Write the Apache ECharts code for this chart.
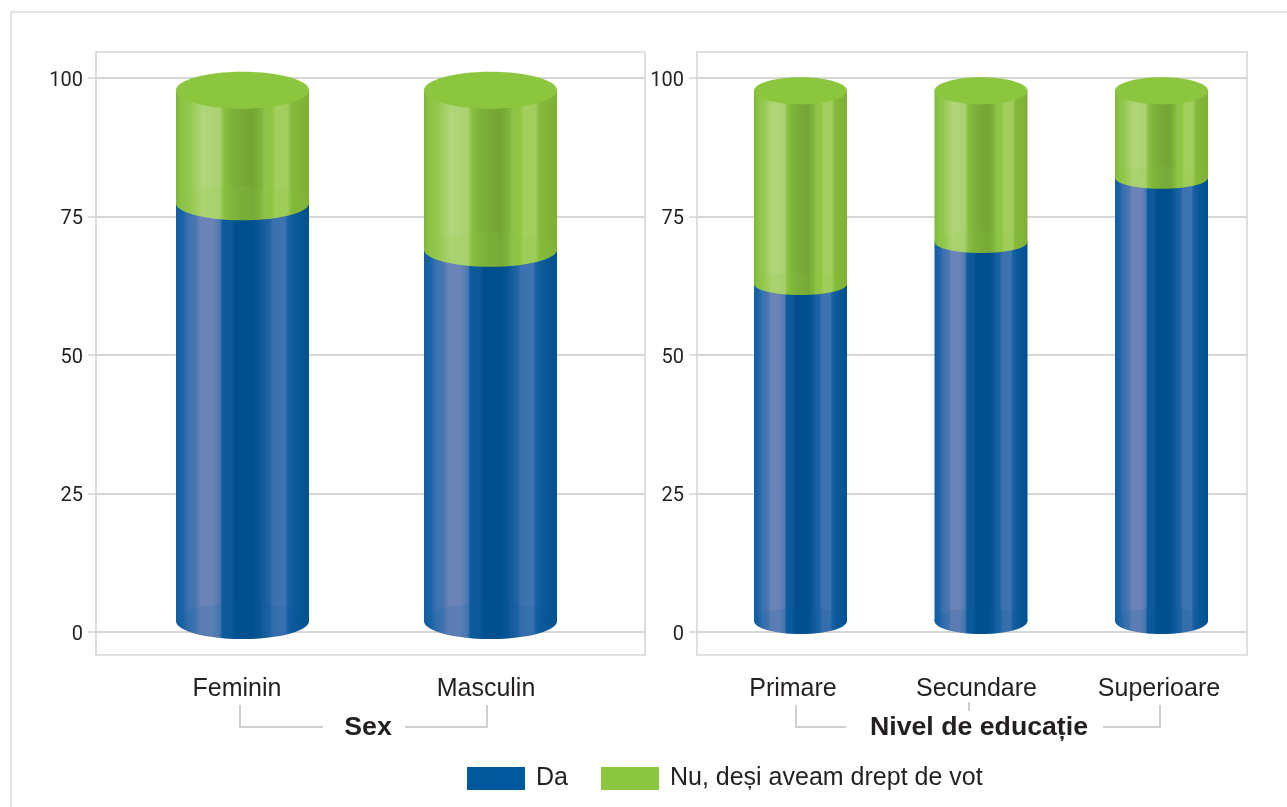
<!DOCTYPE html>
<html>
<head>
<meta charset="utf-8">
<style>html,body{margin:0;padding:0;background:#fff}#c{width:1287px;height:807px}</style>
<script src="https://cdn.jsdelivr.net/npm/echarts@6/dist/echarts.min.js"></script>
</head>
<body>
<div id="c"></div>
<script>
const sexCategories = ['Feminin', 'Masculin'];
const eduCategories = ['Primare', 'Secundare', 'Superioare'];
const sexDa = [75.4, 67.0];
const sexNu = [20.4, 28.8];
const eduDa = [60.8, 68.4, 80.0];
const eduNu = [34.9, 27.3, 15.7];
const yTickLabels = [0, 25, 50, 75, 100];
const seriesNames = ['Da', 'Nu, deși aveam drept de vot'];

const BASE_LIFT = 2;
const BLUE = '#00599d', GREEN = '#8cc63f';
const LINE = '#d6d6d6', INK = '#231f20';
const SANS = '"Liberation Sans", Arial, sans-serif';
const NARROW = 'Roboto, sans-serif';

const blueStops = [[0,'#0f5ea3'],[0.05,'#1d64a8'],[0.09,'#3a70ae'],[0.15,'#4a76b0'],[0.18,'#6a82b6'],[0.27,'#6d84b8'],[0.33,'#4d79b2'],[0.35,'#0e5a9e'],[0.42,'#0d5897'],[0.45,'#004d8c'],[0.58,'#004f8e'],[0.63,'#0a5596'],[0.67,'#1a5f9f'],[0.7,'#1b63a5'],[0.73,'#3c70ae'],[0.82,'#3f74b2'],[0.84,'#1b62a5'],[0.88,'#0e5a9c'],[1,'#00508f']];
const greenStops = [[0,'#7fb53a'],[0.04,'#8cc343'],[0.1,'#93c84f'],[0.15,'#a3cf62'],[0.2,'#b0d57a'],[0.33,'#a9d271'],[0.36,'#88c040'],[0.42,'#7eb33a'],[0.5,'#78a938'],[0.58,'#74a635'],[0.64,'#80b53b'],[0.67,'#8fc34b'],[0.72,'#8fc642'],[0.75,'#a2cf5e'],[0.84,'#a0cd5c'],[0.87,'#83b93a'],[1,'#7fb035']];

function gradient(x0, x1, stops) {
  return new echarts.graphic.LinearGradient(x0, 0, x1, 0,
    stops.map(s => ({offset: s[0], color: s[1]})), true);
}

function cylinder(cfg, isTop) {
  return function (params, api) {
    const i = api.value(0);
    const cx = api.coord([i, 0])[0];
    const yBottom = api.coord([i, BASE_LIFT + api.value(1)])[1];
    const yTop = api.coord([i, BASE_LIFT + api.value(2)])[1];
    const rx = api.size([1, 0])[0] * cfg.widthRatio / 2;
    const ryBottom = isTop ? cfg.rySeam : cfg.ryBase;
    const fill = gradient(cx - rx, cx + rx, isTop ? greenStops : blueStops);
    const flat = isTop ? GREEN : BLUE;
    const children = [
      {type: 'rect', shape: {x: cx - rx, y: yTop, width: rx * 2, height: yBottom - yTop}, style: {fill}},
      {type: 'ellipse', shape: {cx, cy: yBottom, rx, ry: ryBottom}, style: {fill}},
      {type: 'ellipse', shape: {cx, cy: yBottom, rx, ry: ryBottom}, style: {fill: flat, opacity: 0.14}}
    ];
    if (isTop) {
      children.push({type: 'ellipse', shape: {cx, cy: yTop, rx, ry: cfg.ryTop}, style: {fill: GREEN}});
    }
    return {type: 'group', children};
  };
}

function stackedData(first, second, isTop) {
  return first.map((v, i) => isTop ? [i, v, v + second[i]] : [i, 0, v]);
}

function lineGrid(left, width) {
  return {left, width, top: 78, height: 554};
}

const cfgSex = {widthRatio: 133 / 248, ryBase: 18, rySeam: 17, ryTop: 18.5};
const cfgEdu = {widthRatio: 93 / 180.5, ryBase: 13, rySeam: 11, ryTop: 13.5};

function barSeries(name, axis, cfg, a, b, isTop) {
  return {
    type: 'custom', name, xAxisIndex: axis, yAxisIndex: axis,
    itemStyle: {color: isTop ? GREEN : BLUE},
    renderItem: cylinder(cfg, isTop),
    encode: {x: 0, y: [1, 2]},
    data: stackedData(a, b, isTop),
    silent: true, z: isTop ? 4 : 3
  };
}

function frame(x, w) {
  return {type: 'rect', z: -1, shape: {x, y: 52, width: w, height: 603},
    style: {fill: 'none', stroke: LINE, lineWidth: 1.6}};
}
function seg(points) {
  return {type: 'polyline', shape: {points}, style: {fill: 'none', stroke: '#cfcfcf', lineWidth: 2}};
}
function caption(text, x) {
  return {type: 'text', x, y: 728, style: {text, x: 0, y: 0, align: 'center', verticalAlign: 'middle',
    font: 'bold 26.7px ' + SANS, fill: INK}};
}

const valueAxisBase = {type: 'value', min: 0, max: 100, interval: 12.5};
const lineYAxis = gi => Object.assign({}, valueAxisBase, {
  gridIndex: gi,
  axisLine: {show: false},
  axisTick: {show: true, length: 8, customValues: yTickLabels, lineStyle: {color: LINE, width: 1.6}},
  axisLabel: {
    show: true, customValues: yTickLabels, margin: 13, color: INK, fontSize: 20, fontFamily: NARROW,
    formatter: v => '{t|' + v + '}',
    rich: {t: {padding: [5, 0, 0, 0], fontSize: 20, fontFamily: NARROW, color: INK}}
  },
  splitLine: {show: true, lineStyle: {color: LINE, width: 2}}
});
const hiddenYAxis = gi => Object.assign({}, valueAxisBase, {gridIndex: gi, show: false, splitLine: {show: false}});
const hiddenX = gi => ({type: 'category', gridIndex: gi, data: [''], show: false});
const labelX = (gi, data, rich) => ({
  type: 'category', gridIndex: gi, data,
  axisLine: {show: false}, axisTick: {show: false}, splitLine: {show: false},
  axisLabel: {
    interval: 0, margin: 45, fontSize: 25, fontFamily: SANS, color: INK,
    formatter: (v, i) => '{k' + i + '|' + v + '}', rich
  }
});
const padRich = pads => Object.fromEntries(pads.map((p, i) => ['k' + i, {
  padding: [0, p, 0, 0], fontSize: 25, fontFamily: SANS, color: INK
}]));

const chart = echarts.init(document.getElementById('c'), null, {renderer: 'canvas'});
chart.setOption({
  animation: false,
  backgroundColor: '#fff',
  grid: [
    lineGrid(96, 549),
    lineGrid(697, 550),
    lineGrid(118.5, 496),
    lineGrid(710.25, 541.5)
  ],
  xAxis: [
    hiddenX(0), hiddenX(1),
    labelX(2, sexCategories, padRich([11, 9])),
    labelX(3, eduCategories, padRich([15, 9, 5]))
  ],
  yAxis: [lineYAxis(0), lineYAxis(1), hiddenYAxis(2), hiddenYAxis(3)],
  legend: {
    left: 467, top: 766, padding: 0, itemWidth: 58, itemHeight: 23, itemGap: 33,
    icon: 'rect', selectedMode: false, data: seriesNames,
    textStyle: {color: INK, fontSize: 25, fontFamily: SANS, padding: [2, 0, 0, 6]}
  },
  series: [
    barSeries(seriesNames[0], 2, cfgSex, sexDa, sexNu, false),
    barSeries(seriesNames[1], 2, cfgSex, sexDa, sexNu, true),
    barSeries(seriesNames[0], 3, cfgEdu, eduDa, eduNu, false),
    barSeries(seriesNames[1], 3, cfgEdu, eduDa, eduNu, true)
  ],
  graphic: [
    {type: 'polyline', shape: {points: [[11, 807], [11, 12], [1287, 12]]}, style: {fill: 'none', stroke: '#dcdcdc', lineWidth: 1.6}},
    frame(96, 549), frame(697, 550),
    seg([[240, 705], [240, 727], [323, 727]]),
    seg([[405, 727], [487, 727], [487, 705]]),
    seg([[796, 705], [796, 727], [846, 727]]),
    seg([[1103, 727], [1160, 727], [1160, 705]]),
    seg([[969, 702], [969, 711]]),
    caption('Sex', 368),
    caption('Nivel de educație', 979)
  ]
});
</script>
</body>
</html>
